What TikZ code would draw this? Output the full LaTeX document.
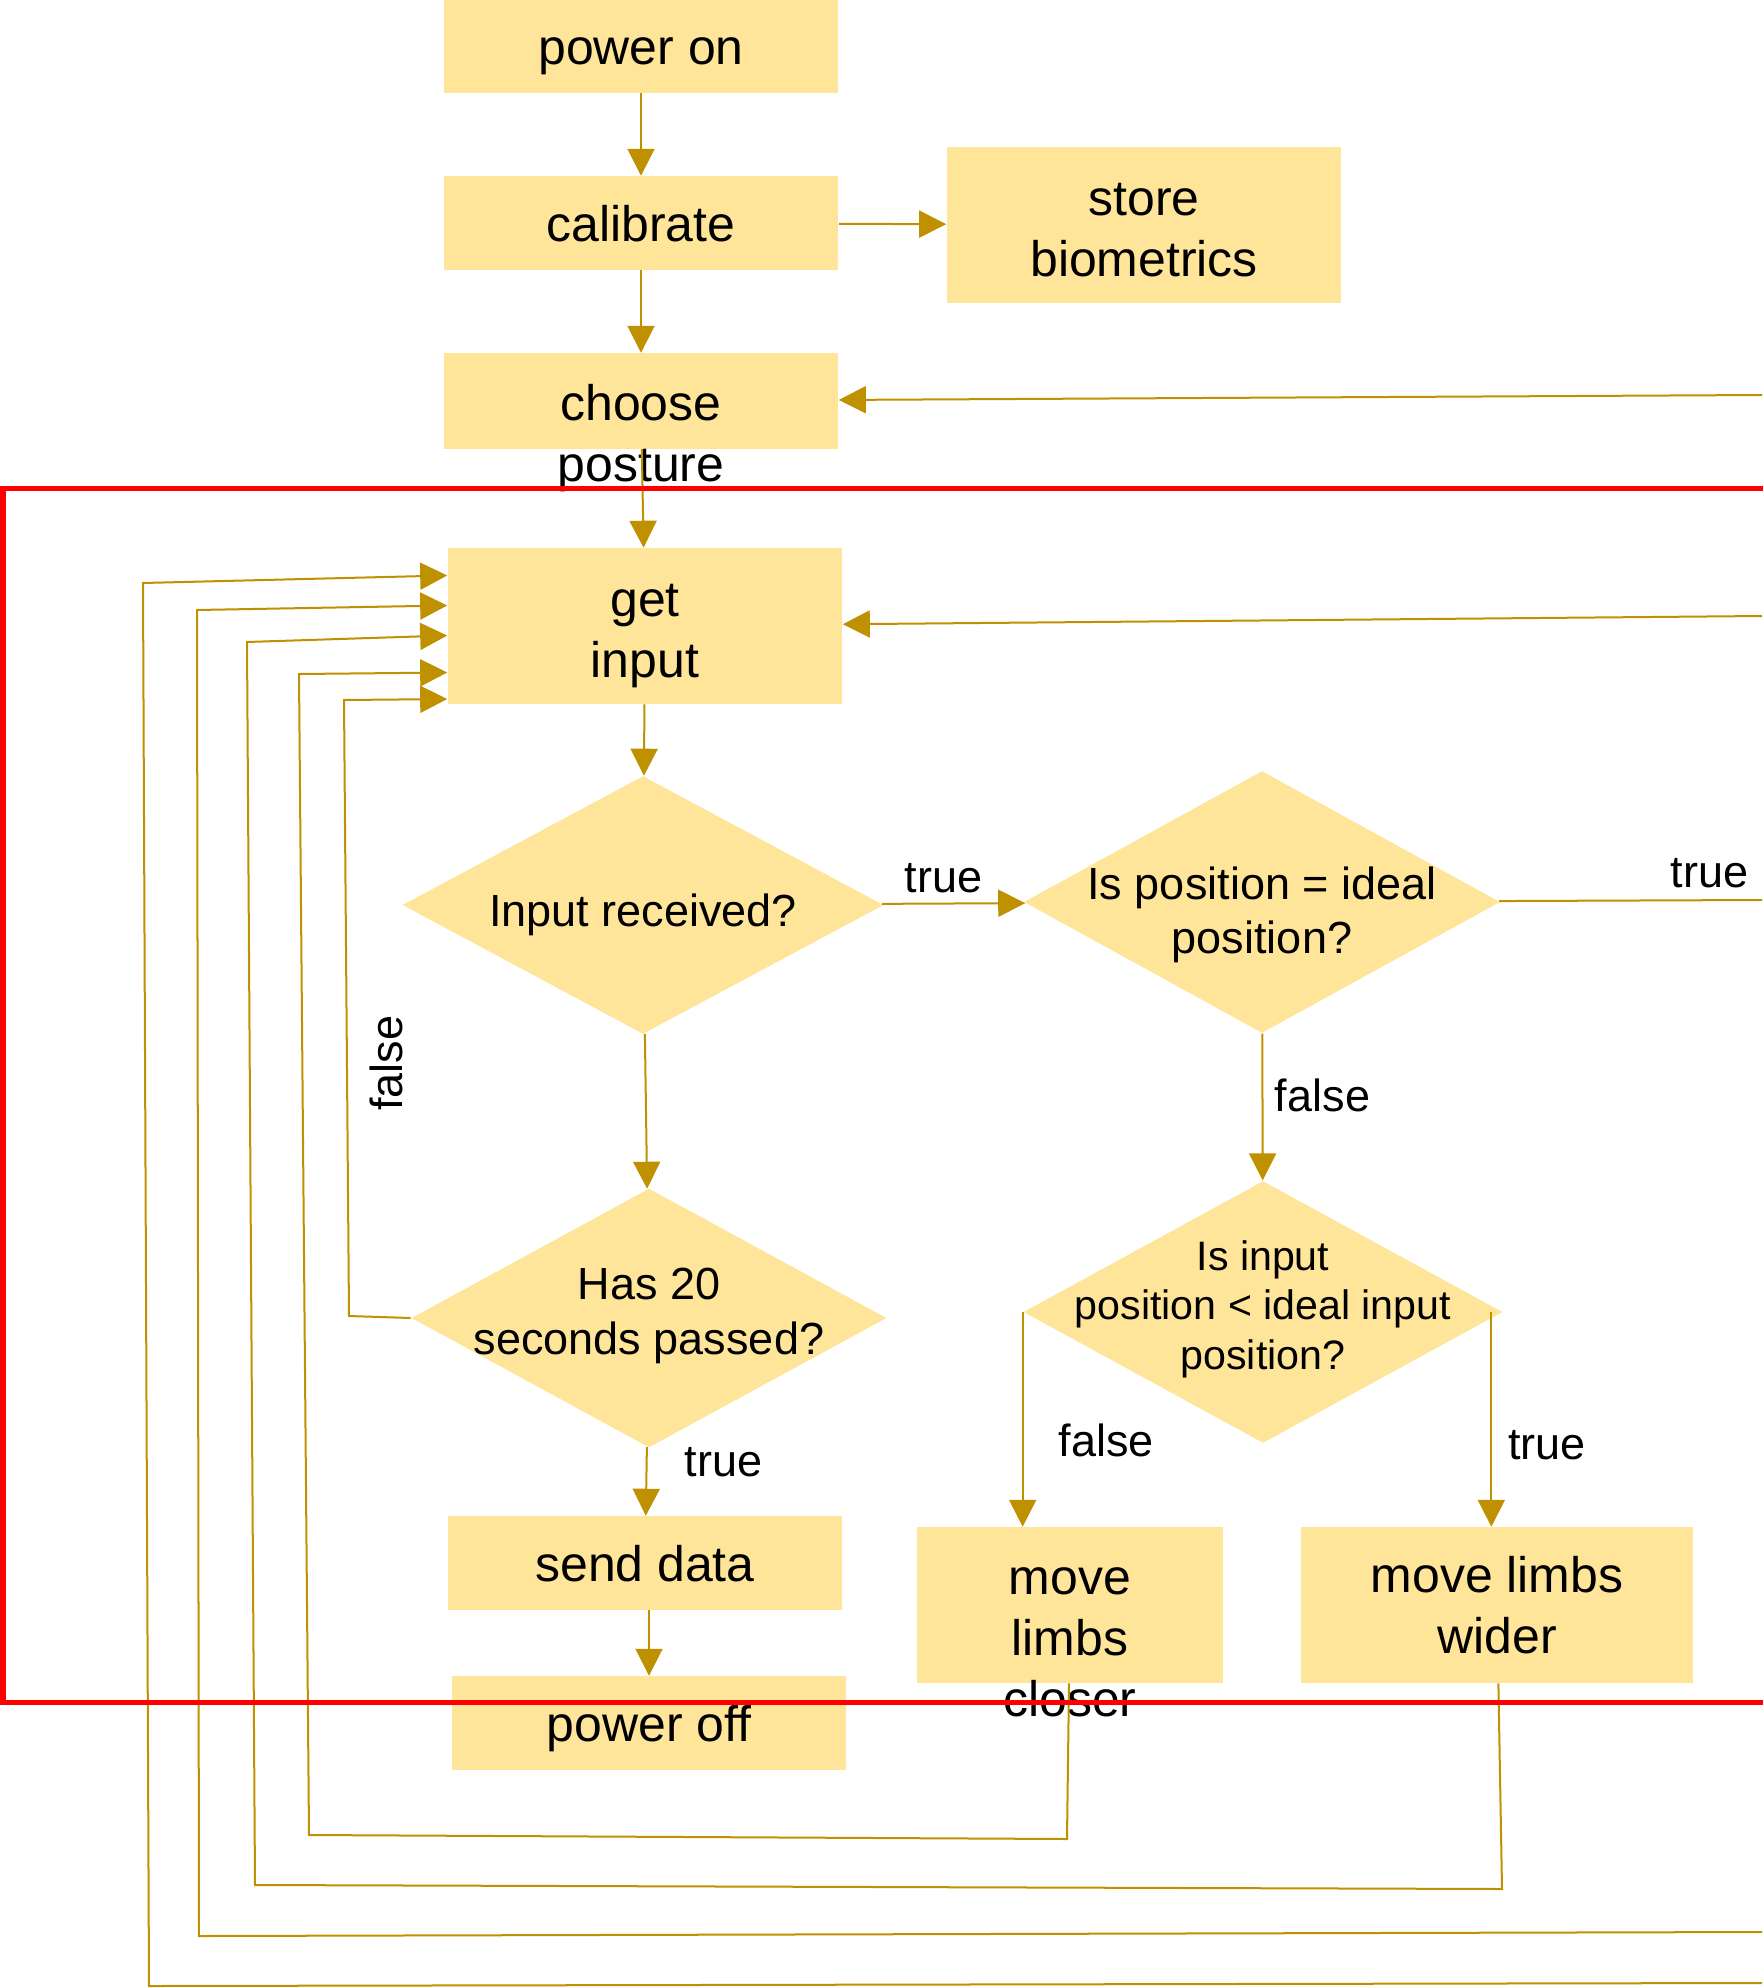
\documentclass[tikz,border=0pt]{standalone}
\usepackage{fontspec}
\setmainfont{Liberation Sans}
\usepackage{tikz}
\usetikzlibrary{positioning}
\usetikzlibrary{arrows.meta}
\usetikzlibrary{shapes.geometric}

\definecolor{boxfill}{HTML}{FFE599}
\definecolor{linecol}{HTML}{BF9000}

\begin{document}
\begin{tikzpicture}[x=0.01cm, y=-0.01cm,
        blk/.style={rectangle, fill=boxfill, minimum width=3.94cm, minimum height=0.93cm, inner sep=0pt, align=center, font=\fontsize{14.2pt}{17.4pt}\selectfont},
        oneline/.style={text height=0.36cm, text depth=0cm},
        txt/.style={inner sep=0pt, align=center, font=\fontsize{14.2pt}{17.4pt}\selectfont},
        dia/.style={diamond, fill=boxfill, inner sep=0pt},
        dtxt/.style={inner sep=0pt, align=center, font=\fontsize{12.8pt}{15.5pt}\selectfont},
        lbl/.style={inner sep=0pt, font=\fontsize{12.8pt}{15.5pt}\selectfont},
        con/.style={draw=linecol, line width=0.02cm, -{Triangle[length=0.27cm, width=0.27cm]}},
        plain/.style={draw=linecol, line width=0.02cm}]
                \useasboundingbox (0,0) rectangle (1762,1988);

                \node[blk, oneline] (pon) at (641,46) {power on};
                \node[blk, oneline] (cal) at (641,223) {calibrate};
                \node[blk, minimum height=1.55cm] (store) at (1144,225) {\rule{0pt}{0.85em}store\\biometrics};
                \node[blk, minimum height=0.95cm] (choose) at (641,401) {};
                \node[txt] (choose-t) at (641,438) {choose\\posture};
                \node[blk, minimum height=1.55cm] (getin) at (645,626) {\rule{0pt}{1.05em}get\\input};

                \node[dia, minimum width=4.81cm, minimum height=2.58cm] (recv) at (643,905) {};
                \node[dtxt] (recv-t) at (643,915) {Input received?};
                \node[dia, minimum width=4.76cm, minimum height=2.62cm] (ideal) at (1262,902) {};
                \node[dtxt] (ideal-t) at (1262,915) {Is position = ideal\\position?};
                \node[dia, minimum width=4.75cm, minimum height=2.59cm] (has20) at (649,1318) {};
                \node[dtxt] (has20-t) at (649,1316) {Has 20\\seconds passed?};
                \node[dia, minimum width=4.79cm, minimum height=2.62cm] (inpos) at (1263,1312) {};
                \node[dtxt, font=\fontsize{11.7pt}{14.1pt}\selectfont] (inpos-t) at (1263,1309) {Is input\\position < ideal input\\position?};

                \node[blk, oneline] (send) at (645,1563) {send data};
                \node[blk, oneline] (poff) at (649,1723) {power off};
                \node[blk, minimum width=3.05cm, minimum height=1.55cm] (closer) at (1070,1605) {};
                \node[txt] (closer-t) at (1070,1642) {move\\limbs\\closer};
                \node[blk, minimum width=3.92cm, minimum height=1.55cm] (wider) at (1497,1605) {move limbs\\wider};

                \coordinate (e-choose) at (1762,395);
                \coordinate (e-getin) at (1762,616);
                \coordinate (e-ideal) at (1762,900);
                \coordinate (e-low1) at (1762,1932);
                \coordinate (e-low2) at (1762,1983);
                \coordinate (inpos-r) at ([xshift=-0.12cm]inpos.east);

                \draw[con] (pon) -- (cal);
                \draw[con] (cal) -- (store);
                \draw[con] (cal) -- (choose);
                \draw[con] (e-choose) -- (choose);
                \draw[con] (choose) -- (getin);
                \draw[con] (e-getin) -- (getin);
                \draw[con] (getin) -- (recv);
                \draw[con] (recv) -- node[lbl, above=0.1cm, pos=0.43] {true} (ideal);
                \draw[plain] (ideal) -- node[lbl, above=0.11cm, pos=0.8] {true} (e-ideal);
                \draw[con] (ideal) -- node[lbl, right=0.115cm, pos=0.42] {false} (inpos);
                \draw[con] (recv) -- (has20);
                \draw[con] (has20.west) -- (349,1316) -- node[lbl, pos=0.41, anchor=north, xshift=0.22cm, rotate=90] {false} (344,700) -- ([yshift=-0.73cm]getin.west);
                \draw[con] (has20) -- node[lbl, right=0.37cm, pos=0.22] {true} (send);
                \draw[con] (poff.north |- send.south) -- (poff);
                \draw[con] (inpos.west) -- node[lbl, right=0.35cm, pos=0.6] {false} (inpos.west |- closer.north);
                \draw[con] (inpos-r) -- node[lbl, right=0.16cm, pos=0.62] {true} (inpos-r |- wider.north);

                % loops back to get input
                \draw[con] (closer) -- (1067,1839) -- (309,1835) -- (299,674) -- ([yshift=-0.465cm]getin.west);
                \draw[con] (wider) -- (1502,1889) -- (255,1885) -- (247,642) -- ([yshift=-0.095cm]getin.west);
                \draw[con] (e-low1) -- (199,1936) -- (197,610) -- ([yshift=0.205cm]getin.west);
                \draw[con] (e-low2) -- (149,1986) -- (143,583) -- ([yshift=0.505cm]getin.west);

                \draw[red, line width=0.05cm] (1790,488) -- (3,488) -- (3,1702) -- (1790,1702);
            \end{tikzpicture}
\end{document}
